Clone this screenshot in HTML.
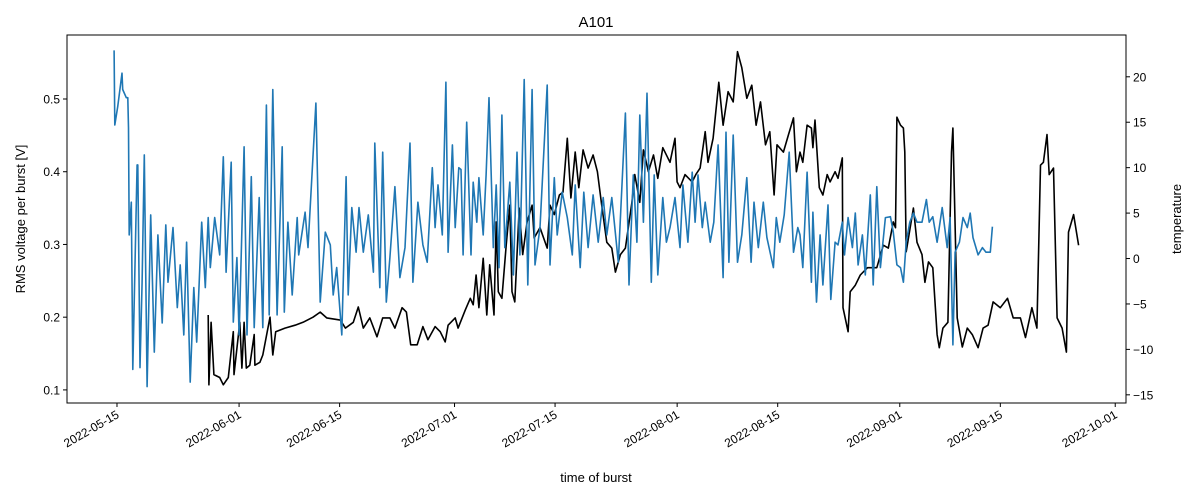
<!DOCTYPE html>
<html><head><meta charset="utf-8"><style>
body{margin:0;background:#fff;}
svg{display:block;font-family:"Liberation Sans","DejaVu Sans",sans-serif;}
</style></head><body>
<svg id="chart" width="1200" height="500" xmlns="http://www.w3.org/2000/svg"></svg>
<script>
// ---- data ----
const xTickLabels=["2022-05-15","2022-06-01","2022-06-15","2022-07-01","2022-07-15","2022-08-01","2022-08-15","2022-09-01","2022-09-15","2022-10-01"];
const xTickDays=[0,17,31,47,61,78,92,109,123,139];
const leftTicks=[0.1,0.2,0.3,0.4,0.5];
const rightTicks=[-15,-10,-5,0,5,10,15,20];
const tempDays=[-0.4,-0.3,0.1,0.7,0.8,1.3,1.5,1.6,1.7,2.0,2.2,2.8,2.9,3.2,3.5,3.8,4.2,4.7,5.2,5.7,6.3,6.8,7.1,7.8,8.4,8.8,9.3,9.7,10.2,10.7,11.1,11.8,12.3,12.7,13.0,13.6,14.3,14.8,15.2,15.9,16.2,16.7,17.0,17.7,18.1,18.7,19.1,19.8,20.3,20.8,21.2,21.7,22.3,23.0,23.3,23.8,24.4,25.1,25.3,26.2,26.6,27.7,28.3,29.0,29.7,30.1,30.6,31.3,31.9,32.2,32.7,33.3,33.7,34.3,35.0,35.7,35.9,36.6,37.0,37.5,38.0,38.7,39.4,40.1,40.8,41.2,41.9,42.6,43.2,43.9,44.3,44.7,45.3,45.8,46.1,46.7,47.1,47.6,47.9,48.2,48.7,49.3,49.6,50.1,50.4,51.0,51.4,51.8,52.4,52.8,53.2,53.6,54.0,54.7,55.2,55.7,56.1,56.7,57.2,57.8,58.2,58.9,59.9,60.3,60.9,61.3,62.0,62.7,63.4,63.8,64.5,65.0,65.6,66.3,67.0,67.7,68.2,68.9,69.8,70.8,71.3,71.9,72.4,72.8,73.3,73.8,74.4,74.8,75.3,76.0,76.5,77.0,77.7,78.4,78.8,79.5,80.1,80.5,80.9,81.5,81.9,82.6,83.1,83.7,84.4,84.8,85.2,85.8,86.4,87.0,87.7,88.3,88.7,89.3,90.0,90.5,91.4,91.8,92.3,92.9,93.6,94.2,94.8,95.1,95.5,96.1,96.7,96.9,97.4,97.9,98.3,99.0,99.4,100.0,100.4,101.0,101.3,101.8,102.4,102.8,103.2,103.8,104.2,104.9,105.3,105.8,106.3,107.0,107.7,108.1,108.6,109.1,109.5,109.9,110.4,110.9,111.4,112.1,112.7,113.1,113.6,114.2,114.9,115.6,116.0,116.4,116.7,117.3,117.8,118.4,118.8,119.2,119.9,120.5,121.0,121.6,121.9];
const tempValues=[22.9,14.7,16.7,20.4,18.6,17.7,17.7,14.4,2.6,6.2,-12.2,10.3,10.3,-12.0,-2.6,11.4,-14.1,4.8,-10.3,2.6,-7.1,3.7,-2.6,3.4,-5.4,-0.7,-8.4,1.8,-13.6,-3.2,-9.2,4.0,-3.2,4.5,-1.0,4.5,0.4,11.2,-1.5,10.6,-7.0,0.1,-8.4,12.3,-8.4,9.0,-7.6,6.7,-7.6,16.9,-6.2,18.6,-6.2,12.3,-5.9,4.0,-4.0,4.5,0.4,5.1,1.2,17.1,-4.8,2.9,1.5,-4.0,-1.0,-8.4,9.0,-4.0,5.6,0.7,5.6,0.7,4.8,-1.5,12.7,-3.2,11.7,-4.8,0.1,7.9,-2.1,1.2,12.7,-2.6,6.2,1.5,-0.4,10.0,3.4,8.1,2.6,19.4,0.7,12.5,3.4,10.0,9.8,0.4,15.0,0.4,8.4,4.0,8.9,2.6,9.2,17.7,1.2,8.1,-1.0,15.8,1.2,8.4,-1.8,11.7,0.4,19.7,-2.9,18.6,-0.7,3.4,19.1,-0.7,8.9,2.6,7.3,4.5,0.4,8.1,-1.0,7.3,1.2,7.0,1.8,6.7,2.6,6.7,-0.4,16.0,-2.9,9.2,1.8,15.8,4.0,18.2,-2.6,9.2,-1.8,6.7,1.8,3.4,6.7,1.2,8.1,1.8,9.5,4.0,9.2,3.4,6.2,1.8,4.0,12.5,-2.1,13.9,-0.4,13.6,-0.4,2.6,8.9,-0.4,6.2,1.2,6.2,2.3,-1.0,4.5,1.8,4.8,11.7,0.7,3.4,2.6,-1.0,9.5,-2.6,5.1,-4.8,2.6,-2.9,5.9,-4.5,1.8,1.5,4.0,0.4,4.5,1.2,5.0,-0.7,2.6,-1.8,7.0,-2.9,7.9,-1.0,4.5,4.6,2.9,-0.7,-1.0,-2.6,1.8,4.0,5.0,4.0,4.0,6.5,4.0,4.6,1.8,5.6,1.2,4.5,-9.5,0.7,1.8,4.5,3.4,5.0,2.3,0.4,1.2,0.7,0.7,3.5];
const rmsDays=[12.7,12.8,13.1,13.5,14.3,14.8,15.5,16.2,16.3,17.1,17.4,17.7,18.0,18.5,19.1,19.2,19.9,20.3,21.3,21.7,22.1,23.4,24.8,25.9,27.3,28.3,29.2,31.1,31.8,32.9,33.6,34.3,35.2,36.2,37.0,38.0,38.7,39.7,40.3,40.9,41.8,42.6,43.3,44.3,45.0,45.7,46.1,47.1,47.5,48.5,49.2,49.6,50.0,50.4,51.0,51.5,51.9,52.5,52.8,53.1,53.6,54.2,54.7,55.0,55.4,56.0,56.5,57.1,57.8,58.1,58.9,59.9,60.3,60.9,61.6,62.1,62.7,63.2,63.8,64.3,64.9,65.6,66.3,66.9,67.5,68.2,68.9,69.4,70.1,70.8,71.2,71.7,72.1,72.8,73.3,74.0,74.7,75.3,76.0,77.0,77.7,78.0,78.4,79.1,80.1,80.6,81.2,81.9,82.3,83.0,83.8,84.4,85.1,85.8,86.4,87.0,87.7,88.4,89.0,89.6,90.3,90.9,91.5,91.9,92.8,93.5,94.2,94.6,95.1,95.5,96.1,96.7,96.9,97.2,97.8,98.3,98.9,99.3,100.0,100.4,101.0,101.1,101.8,102.1,102.8,103.5,104.5,105.8,106.7,107.4,108.1,108.4,108.6,109.1,109.5,109.7,109.9,110.9,111.4,112.1,112.5,113.0,113.6,114.2,114.5,115.0,115.7,116.2,116.4,117.0,117.7,118.4,119.1,119.9,120.6,121.3,122.0,123.0,124.0,124.8,125.8,126.5,127.4,128.1,128.6,129.0,129.5,129.8,130.4,130.9,131.6,132.2,132.5,133.2,133.9];
const rmsValues=[0.203,0.107,0.193,0.121,0.117,0.107,0.117,0.180,0.121,0.193,0.130,0.193,0.130,0.134,0.176,0.134,0.138,0.148,0.200,0.148,0.180,0.185,0.189,0.193,0.200,0.207,0.199,0.196,0.185,0.193,0.214,0.185,0.199,0.173,0.199,0.199,0.185,0.213,0.207,0.162,0.162,0.187,0.169,0.187,0.180,0.166,0.189,0.199,0.185,0.210,0.226,0.217,0.258,0.213,0.281,0.203,0.272,0.203,0.331,0.235,0.226,0.299,0.354,0.235,0.221,0.350,0.286,0.331,0.354,0.309,0.323,0.295,0.354,0.341,0.368,0.372,0.446,0.364,0.427,0.378,0.430,0.405,0.423,0.400,0.354,0.303,0.295,0.262,0.286,0.295,0.323,0.358,0.396,0.358,0.430,0.400,0.423,0.391,0.433,0.413,0.446,0.386,0.378,0.396,0.386,0.396,0.405,0.455,0.413,0.446,0.523,0.464,0.510,0.496,0.565,0.543,0.501,0.519,0.464,0.496,0.437,0.455,0.368,0.437,0.427,0.451,0.474,0.400,0.427,0.413,0.464,0.460,0.433,0.471,0.378,0.368,0.396,0.386,0.400,0.391,0.419,0.213,0.180,0.235,0.244,0.258,0.268,0.268,0.299,0.295,0.331,0.323,0.475,0.464,0.460,0.427,0.290,0.350,0.303,0.286,0.248,0.276,0.268,0.176,0.158,0.185,0.193,0.427,0.460,0.199,0.159,0.185,0.176,0.158,0.185,0.189,0.221,0.213,0.226,0.199,0.199,0.172,0.213,0.185,0.409,0.413,0.451,0.396,0.405,0.199,0.185,0.152,0.317,0.341,0.299];

// ---- layout / scales ----
const L=67,R=1126,T=35,B=403;
const dMin=-6.96,dMax=140.5;
const vMin=0.082,vMax=0.588;
const tMin=-15.9,tMax=24.6;
const sx=d=>L+(d-dMin)/(dMax-dMin)*(R-L);
const syL=v=>B-(v-vMin)/(vMax-vMin)*(B-T);
const syR=t=>B-(t-tMin)/(tMax-tMin)*(B-T);

const NS="http://www.w3.org/2000/svg";
const svg=document.getElementById('chart');
function mk(tag,attrs,parent){const e=document.createElementNS(NS,tag);for(const k in attrs)e.setAttribute(k,attrs[k]);(parent||svg).appendChild(e);return e;}

const gSeries=mk('g',{});


const rmsPath=mk('polyline',{points:rmsDays.map((d,i)=>sx(d).toFixed(1)+','+syL(rmsValues[i]).toFixed(1)).join(' '),fill:'none',stroke:'#000','stroke-width':1.6,'stroke-linejoin':'round'},gSeries);


const tPath=mk('polyline',{points:tempDays.map((d,i)=>sx(d).toFixed(1)+','+syR(tempValues[i]).toFixed(1)).join(' '),fill:'none',stroke:'#1f77b4','stroke-width':1.6,'stroke-linejoin':'round'},gSeries);



const frame=mk('rect',{x:L,y:T,width:R-L,height:B-T,fill:'none',stroke:'#000','stroke-width':1});



xTickDays.forEach((d,i)=>{
  const x=sx(d);
  const tk=mk('line',{x1:x,x2:x,y1:B,y2:B+4,stroke:'#000'});
  
  
  const tx=mk('text',{x:x+3,y:B+14,'font-size':12,'text-anchor':'end',transform:`rotate(-30 ${x+3} ${B+14})`});
  tx.textContent=xTickLabels[i];
  
  
});
leftTicks.forEach(v=>{
  const y=syL(v);
  const tk=mk('line',{x1:L-4,x2:L,y1:y,y2:y,stroke:'#000'});
  
  
  const tx=mk('text',{x:L-7,y:y+4.5,'font-size':12,'text-anchor':'end'});
  tx.textContent=v.toFixed(1);
  
  
});
rightTicks.forEach(t=>{
  const y=syR(t);
  const tk=mk('line',{x1:R,x2:R+4,y1:y,y2:y,stroke:'#000'});
  
  
  const tx=mk('text',{x:R+7,y:y+4.5,'font-size':12,'text-anchor':'start'});
  tx.textContent=String(t).replace('-','\u2212');
  
  
});
</script>
<svg style="position:absolute;left:0;top:0" width="1200" height="500" xmlns="http://www.w3.org/2000/svg" font-family="Liberation Sans, DejaVu Sans, sans-serif">
<text x="596" y="27" font-size="15" text-anchor="middle">A101</text>
<text x="596" y="482" font-size="13" text-anchor="middle">time of burst</text>
<text x="25" y="219" font-size="13" text-anchor="middle" transform="rotate(-90 25 219)">RMS voltage per burst [V]</text>
<text x="1181" y="219" font-size="13" text-anchor="middle" transform="rotate(-90 1181 219)">temperature</text>
</svg>
</body></html>
